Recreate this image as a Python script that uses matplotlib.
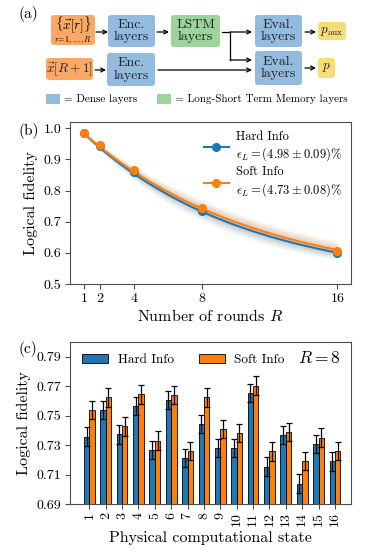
import numpy as np
import matplotlib
matplotlib.use("Agg")
import matplotlib.pyplot as plt
from matplotlib.patches import FancyBboxPatch, Rectangle

plt.rcParams['font.family'] = 'serif'
plt.rcParams['font.serif'] = ['cmr10', 'DejaVu Serif']
plt.rcParams['mathtext.fontset'] = 'cm'
plt.rcParams['axes.formatter.use_mathtext'] = True
plt.rcParams['axes.unicode_minus'] = False

# ---------------- data ----------------
rounds = [1, 2, 4, 8, 16]
hard_fid = [0.984, 0.944, 0.861, 0.734, 0.598]
soft_fid = [0.985, 0.946, 0.866, 0.745, 0.607]
eps_hard = 0.0498
eps_soft = 0.0473
eps_hard_err = 0.0009
eps_soft_err = 0.0008
r_offset = 0.69
hard_label = 'Hard Info\n$\\epsilon_L = (4.98 \\pm 0.09)\\%$'
soft_label = 'Soft Info\n$\\epsilon_L = (4.73 \\pm 0.08)\\%$'

states = [str(i) for i in range(1, 17)]
hard_state = [0.7358, 0.7539, 0.7372, 0.7564, 0.7268, 0.7607, 0.7212, 0.7444,
              0.7281, 0.7281, 0.7654, 0.7153, 0.7370, 0.7038, 0.7306, 0.7189]
soft_state = [0.7537, 0.7625, 0.7428, 0.7645, 0.7331, 0.7640, 0.7261, 0.7625,
              0.7410, 0.7383, 0.7704, 0.7257, 0.7388, 0.7191, 0.7351, 0.7259]
hard_err = [0.0063] * 16
soft_err = [0.0063] * 16

blue = '#1f77b4'
orange = '#ff7f0e'
spine_col = '#4d4d4d'

fig = plt.figure(figsize=(3.77, 5.53), dpi=100)
W, H = 377.0, 553.0

# ---------------- panel (a) diagram ----------------
axa = fig.add_axes([0, 1 - 110 / H, 1, 110 / H])
axa.set_xlim(0, W)
axa.set_ylim(110, 0)
axa.axis('off')

c_or = '#f9a866'
c_bl = '#93bbe0'
c_gr = '#9dd49c'
c_ye = '#f8dc78'

def box(x0, y0, x1, y1, col, txt, fs=10, dy=0):
    p = FancyBboxPatch((x0 + 2, y0 + 2), x1 - x0 - 4, y1 - y0 - 4,
                       boxstyle='round,pad=2,rounding_size=3',
                       fc=col, ec='none', mutation_aspect=1)
    axa.add_patch(p)
    if txt:
        axa.text((x0 + x1) / 2, (y0 + y1) / 2 + dy, txt, ha='center', va='center',
                 fontsize=fs, color='#222222', linespacing=1.05)

def arrow(x0, y0, x1, y1):
    axa.annotate('', xy=(x1, y1), xytext=(x0, y0),
                 arrowprops=dict(arrowstyle='->', lw=0.9, color='black',
                                 shrinkA=0, shrinkB=0, mutation_scale=7))

box(51, 15, 95, 45, c_or, None)
axa.text(73, 25, r'$\{\vec{x}[r]\}$', ha='center', va='center', fontsize=9.5)
axa.text(73, 40, r'$r\!=\!1,\ldots,R$', ha='center', va='center', fontsize=5.8)
box(108, 15, 155, 47, c_bl, 'Enc.\nlayers')
box(171, 15, 220, 47, c_gr, 'LSTM\nlayers')
box(255, 15, 302, 47, c_bl, 'Eval.\nlayers')
box(318, 22, 346, 40, c_ye, r'$p_{\rm aux}$', fs=9.5)

box(46, 58, 93, 80, c_or, r'$\vec{x}[R+1]$', fs=9.5)
box(107, 53, 155, 86, c_bl, 'Enc.\nlayers')
box(255, 51, 302, 85, c_bl, 'Eval.\nlayers')
box(318, 58, 335, 78, c_ye, r'$p$', fs=9.5)

arrow(96, 32, 108, 32)
arrow(157, 32, 169, 32)
axa.plot([222, 230, 230], [32, 32, 60], color='black', lw=0.9)
arrow(230, 32, 252, 32)
arrow(230, 60, 252, 60)
arrow(95, 70, 106, 70)
arrow(158, 70, 252, 70)
arrow(305, 32, 316, 32)
arrow(305, 68, 316, 68)

axa.add_patch(Rectangle((46, 94), 14, 10, fc=c_bl, ec='none'))
axa.text(64, 99, '= Dense layers', ha='left', va='center', fontsize=8)
axa.add_patch(Rectangle((157, 94), 14, 10, fc=c_gr, ec='none'))
axa.text(175, 99, '= Long-Short Term Memory layers', ha='left', va='center', fontsize=8)
axa.text(18, 14, '(a)', ha='left', va='center', fontsize=11)

# ---------------- panel (b) ----------------
axb = fig.add_axes([70 / W, 1 - 284 / H, 281 / W, 162 / H])
rr = np.linspace(1, 16, 200)

def fit(eps, r):
    return 0.5 + 0.5 * (1 - 2 * eps) ** (r - r_offset)

for eps, err, col in [(eps_hard, eps_hard_err, blue), (eps_soft, eps_soft_err, orange)]:
    for k in range(1, 6):
        d = err * 1.8 * k
        axb.fill_between(rr, fit(eps - d, rr), fit(eps + d, rr), color=col,
                         alpha=0.05, lw=0)

axb.plot(rr, fit(eps_hard, rr), color=blue, lw=1.5)
axb.plot(rr, fit(eps_soft, rr), color=orange, lw=1.5)
axb.plot(rounds, hard_fid, 'o', color=blue, ms=5.5)
axb.plot(rounds, soft_fid, 'o', color=orange, ms=5.5)
hb, = axb.plot([], [], '-o', color=blue, ms=5.5, lw=1.5)
ho, = axb.plot([], [], '-o', color=orange, ms=5.5, lw=1.5)
axb.legend([hb, ho], [hard_label, soft_label], loc='upper right', frameon=False,
           fontsize=9, handlelength=2.0, handletextpad=0.6, borderaxespad=0.3,
           labelspacing=0.25, bbox_to_anchor=(1.0, 1.0))
axb.set_xlim(0.2, 16.8)
axb.set_ylim(0.5, 1.02)
axb.set_xticks(rounds)
axb.set_yticks([0.5, 0.6, 0.7, 0.8, 0.9, 1.0])
axb.set_yticklabels(['0.5', '0.6', '0.7', '0.8', '0.9', '1.0'])
axb.set_xlabel('Number of rounds $R$', fontsize=11.5, labelpad=2)
axb.set_ylabel('Logical fidelity', fontsize=11.5, labelpad=4)
axb.tick_params(labelsize=10, length=3.5, color=spine_col, pad=2.5)
for s in axb.spines.values():
    s.set_color(spine_col)
fig.text(18 / W, 1 - 131 / H, '(b)', ha='left', va='center', fontsize=11)

# ---------------- panel (c) ----------------
axc = fig.add_axes([70 / W, 1 - 504 / H, 281 / W, 162 / H])
x = np.arange(1, 17)
bw = 0.33
axc.bar(x - bw / 2, hard_state, bw, color=blue, edgecolor='black', lw=0.6,
        yerr=hard_err, capsize=2, error_kw=dict(lw=0.9, capthick=0.9), label='Hard Info')
axc.bar(x + bw / 2, soft_state, bw, color=orange, edgecolor='black', lw=0.6,
        yerr=soft_err, capsize=2, error_kw=dict(lw=0.9, capthick=0.9), label='Soft Info')
axc.set_ylim(0.69, 0.80)
axc.set_xlim(-0.18, 16.98)
axc.set_yticks([0.69, 0.71, 0.73, 0.75, 0.77, 0.79])
axc.set_yticklabels(['0.69', '0.71', '0.73', '0.75', '0.77', '0.79'])
axc.set_xticks(x)
axc.set_xticklabels(states, rotation=90)
axc.set_xlabel('Physical computational state', fontsize=11.5, labelpad=3)
axc.set_ylabel('Logical fidelity', fontsize=11.5, labelpad=4)
axc.tick_params(labelsize=10, length=3.5, color=spine_col, pad=2.5)
for s in axc.spines.values():
    s.set_color(spine_col)
axc.legend(loc='upper left', ncol=2, frameon=False, fontsize=9.5, handlelength=2.0,
           handleheight=0.7, handletextpad=0.7, columnspacing=1.9, borderaxespad=0.5,
           bbox_to_anchor=(0.0, 1.0))
axc.text(0.965, 0.9, '$R = 8$', transform=axc.transAxes, ha='right', va='center',
         fontsize=12.5)
fig.text(18 / W, 1 - 349 / H, '(c)', ha='left', va='center', fontsize=11)

fig.savefig('out.png', dpi=100)
